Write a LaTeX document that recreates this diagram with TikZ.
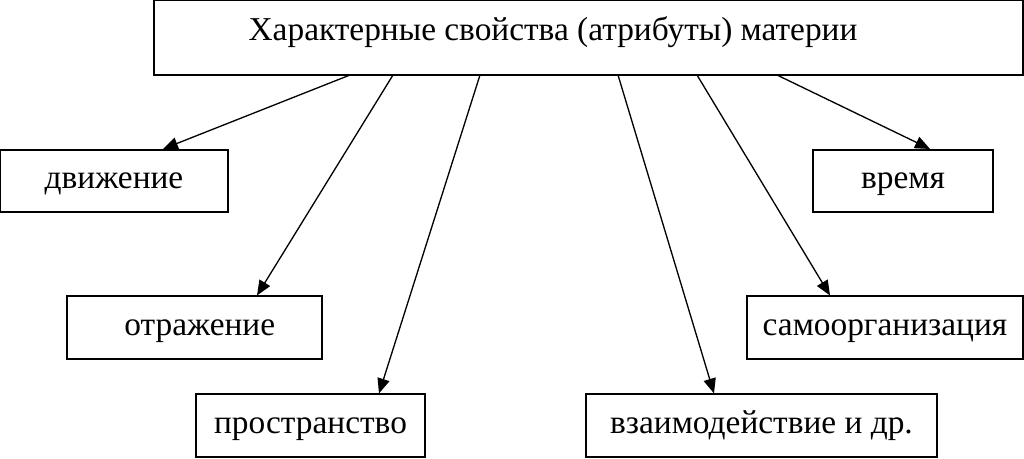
\documentclass[tikz,border=0pt]{standalone}
\usepackage{fontspec}
\setmainfont{Liberation Serif}
\usetikzlibrary{arrows.meta, positioning, calc}

\begin{document}
\begin{tikzpicture}[x=0.02cm, y=-0.02cm,
box/.style={rectangle, draw=black, line width=0.9pt, inner sep=0pt, font=\fontsize{19}{22}\selectfont, text height=9pt, text depth=0pt, minimum height=1.25cm},
arrow/.style={-{Triangle[length=8.5pt, width=7pt]}, line width=0.75pt}
]
\useasboundingbox (0,0) rectangle (1024,458);
\node[box, minimum width=17.38cm, minimum height=1.5cm] (top) at (588.5,37.5) {};
\node[font=\fontsize{19}{22}\selectfont, anchor=base, inner sep=0pt] (title) at (553,40) {Характерные свойства (атрибуты) материи};

\node[box, minimum width=4.56cm] (dv) at (114,181) {движение};
\node[box, minimum width=3.6cm] (vr) at (903,181) {время\hspace{16pt}};
\node[box, minimum width=5.1cm] (otr) at (194.5,327.5) {\hspace{6pt}отражение};
\node[box, minimum width=5.52cm] (samo) at (885,327.5) {самоорганизация};
\node[box, minimum width=4.58cm] (pr) at (310.5,425.5) {пространство};
\node[box, minimum width=7.02cm] (vz) at (761.5,425.5) {взаимодействие и др.\hspace{11pt}};

\coordinate (s1) at (350,75);
\coordinate (s2) at (393,75);
\coordinate (s3) at (480,75);
\coordinate (s4) at (618,75);
\coordinate (s5) at (697,75);
\coordinate (s6) at (777,75);

\draw[arrow] (s1) -- ([xshift=0.98cm]dv.north);
\draw[arrow] (s2) -- ([xshift=1.25cm]otr.north);
\draw[arrow] (s3) -- ([xshift=1.37cm]pr.north);
\draw[arrow] (s4) -- ([xshift=-0.95cm]vz.north);
\draw[arrow] (s5) -- ([xshift=-1.1cm]samo.north);
\draw[arrow] (s6) -- ([xshift=0.54cm]vr.north);
\end{tikzpicture}
\end{document}
